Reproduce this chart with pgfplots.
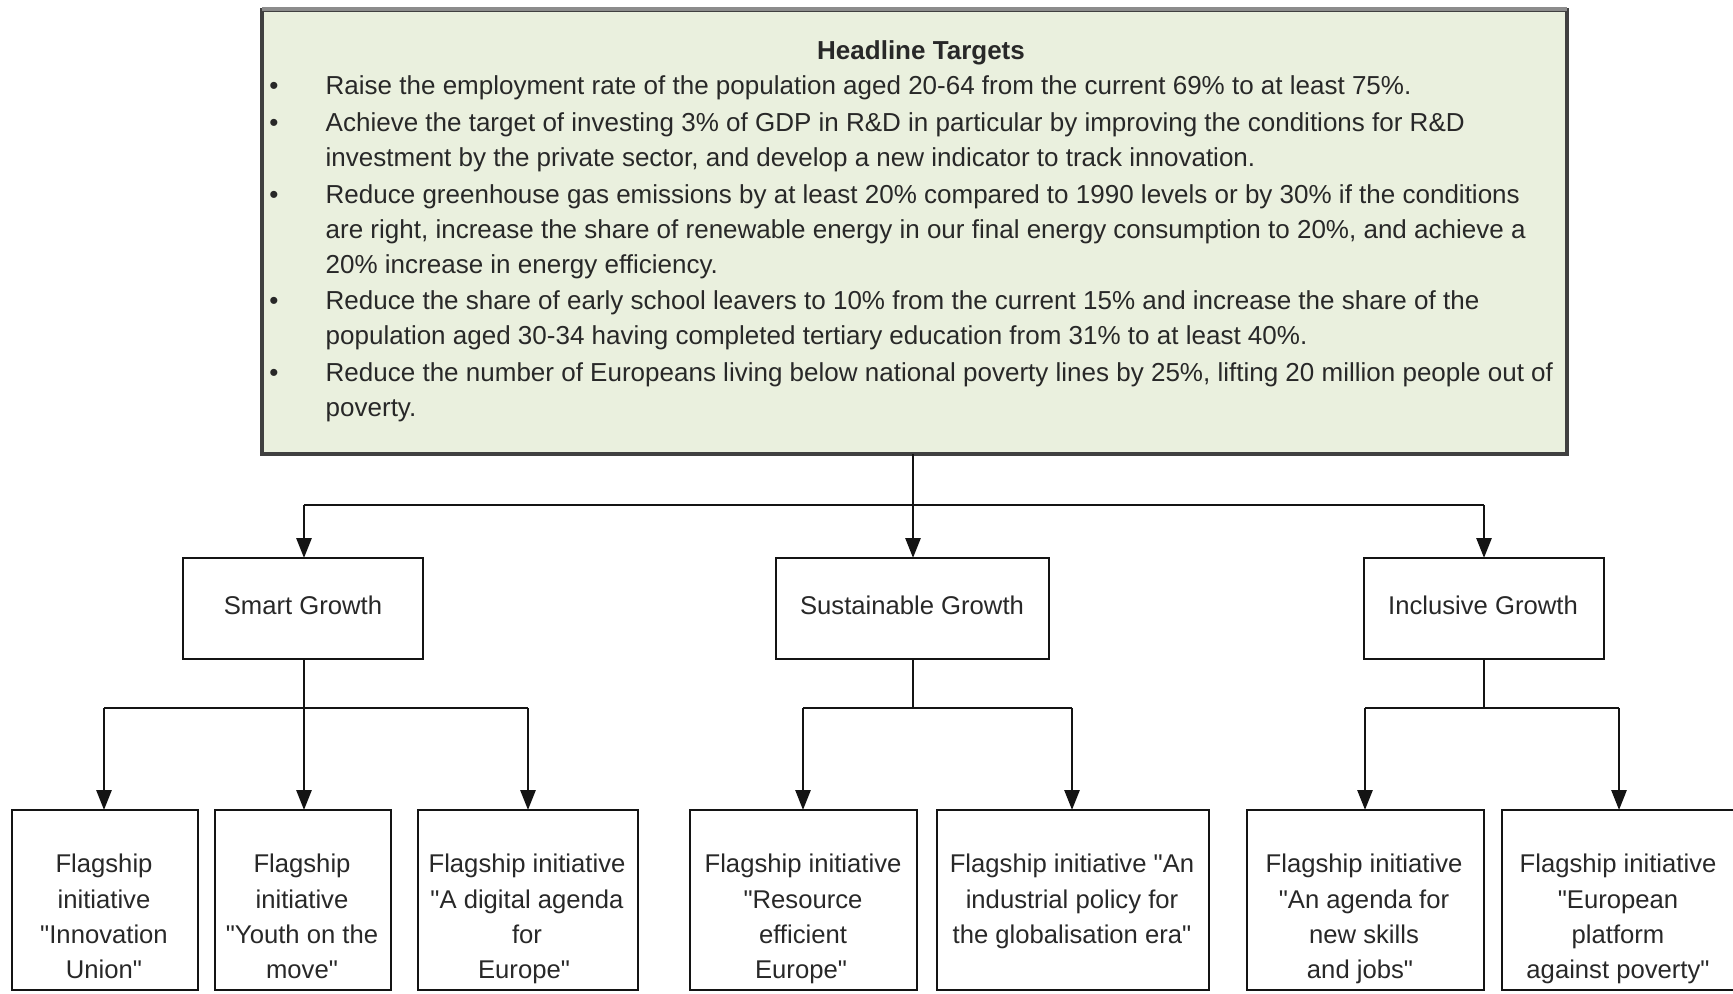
\documentclass[border=0pt]{standalone}
\usepackage{pgfplots}
\pgfplotsset{compat=1.18}
\usepackage{fontspec}
\setmainfont{Liberation Sans}[Ligatures=TeXOff]
\usetikzlibrary{arrows.meta}
\definecolor{boxfill}{RGB}{234,240,222}
\definecolor{tc}{RGB}{40,40,40}
\definecolor{ln}{RGB}{20,20,20}
\newcommand{\topfs}{\fontsize{7.4}{9}\selectfont}
\newcommand{\boxfs}{\fontsize{7.3}{9}\selectfont}
\begin{document}
\begin{tikzpicture}
\begin{axis}[
  scale only axis, width=17.33cm, height=9.93cm,
  xmin=0, xmax=1733, ymin=0, ymax=993, y dir=reverse,
  hide axis, clip=true,
  cycle list={{ln,solid}}, no markers,
  every axis plot/.append style={line width=0.8pt, draw=ln},
  nodes={inner sep=0pt, text=tc, text height=1.45ex, text depth=0pt, yshift=1.3pt},
]
\path (rel axis cs:0,0) rectangle (rel axis cs:1,1);
% ---- top box
\addplot[draw=black!75, line width=1pt, fill=boxfill] coordinates {(262,10) (1567,10) (1567,454) (262,454)} -- cycle;
\addplot[draw=black!45, line width=1.2pt] coordinates {(262,9) (1567,9)};
% ---- connectors level 1
\addplot[] coordinates {(913,454) (913,505)};
\addplot[] coordinates {(304,505) (1484,505)};
\addplot[-{Triangle[length=2mm,width=1.5mm]}] coordinates {(304,505) (304,558)};
\addplot[-{Triangle[length=2mm,width=1.5mm]}] coordinates {(913,505) (913,558)};
\addplot[-{Triangle[length=2mm,width=1.5mm]}] coordinates {(1484,505) (1484,558)};
% ---- middle boxes
\addplot[fill=white] coordinates {(183,558) (423,558) (423,659) (183,659)} -- cycle;
\addplot[fill=white] coordinates {(776,558) (1049,558) (1049,659) (776,659)} -- cycle;
\addplot[fill=white] coordinates {(1364,558) (1604,558) (1604,659) (1364,659)} -- cycle;
% ---- connectors level 2
\addplot[] coordinates {(304,659) (304,708)};
\addplot[] coordinates {(104,708) (528,708)};
\addplot[] coordinates {(913,659) (913,708)};
\addplot[] coordinates {(803,708) (1072,708)};
\addplot[] coordinates {(1484,659) (1484,708)};
\addplot[] coordinates {(1365,708) (1619,708)};
\addplot[-{Triangle[length=2mm,width=1.5mm]}] coordinates {(104,708) (104,810)};
\addplot[-{Triangle[length=2mm,width=1.5mm]}] coordinates {(304,708) (304,810)};
\addplot[-{Triangle[length=2mm,width=1.5mm]}] coordinates {(528,708) (528,810)};
\addplot[-{Triangle[length=2mm,width=1.5mm]}] coordinates {(803,708) (803,810)};
\addplot[-{Triangle[length=2mm,width=1.5mm]}] coordinates {(1072,708) (1072,810)};
\addplot[-{Triangle[length=2mm,width=1.5mm]}] coordinates {(1365,708) (1365,810)};
\addplot[-{Triangle[length=2mm,width=1.5mm]}] coordinates {(1619,708) (1619,810)};
% ---- bottom boxes
\addplot[fill=white] coordinates {(12,810) (198,810) (198,990) (12,990)} -- cycle;
\addplot[fill=white] coordinates {(215,810) (391,810) (391,990) (215,990)} -- cycle;
\addplot[fill=white] coordinates {(418,810) (638,810) (638,990) (418,990)} -- cycle;
\addplot[fill=white] coordinates {(690,810) (917,810) (917,990) (690,990)} -- cycle;
\addplot[fill=white] coordinates {(937,810) (1209,810) (1209,990) (937,990)} -- cycle;
\addplot[fill=white] coordinates {(1247,810) (1484,810) (1484,990) (1247,990)} -- cycle;
\addplot[fill=white] coordinates {(1502,810) (1740,810) (1740,990) (1502,990)} -- cycle;

% ---- top box text
\node[font=\fontsize{7.4}{9}\selectfont\bfseries] at (axis cs:921,51) {Headline Targets};
\node[font=\topfs] at (axis cs:274,86) {•};
\node[font=\topfs] at (axis cs:274,123) {•};
\node[font=\topfs] at (axis cs:274,194.5) {•};
\node[font=\topfs] at (axis cs:274,300.6) {•};
\node[font=\topfs] at (axis cs:274,372.5) {•};
\node[font=\topfs, anchor=west] at (axis cs:325,86) {Raise the employment rate of the population aged 20-64 from the current 69\% to at least 75\%.};
\node[font=\topfs, anchor=west] at (axis cs:325,123) {Achieve the target of investing 3\% of GDP in R\&D in particular by improving the conditions for R\&D};
\node[font=\topfs, anchor=west] at (axis cs:325,158) {investment by the private sector, and develop a new indicator to track innovation.};
\node[font=\topfs, anchor=west] at (axis cs:325,194.5) {Reduce greenhouse gas emissions by at least 20\% compared to 1990 levels or by 30\% if the conditions};
\node[font=\topfs, anchor=west] at (axis cs:325,230) {are right, increase the share of renewable energy in our final energy consumption to 20\%, and achieve a};
\node[font=\topfs, anchor=west] at (axis cs:325,265) {20\% increase in energy efficiency.};
\node[font=\topfs, anchor=west] at (axis cs:325,300.6) {Reduce the share of early school leavers to 10\% from the current 15\% and increase the share of the};
\node[font=\topfs, anchor=west] at (axis cs:325,336) {population aged 30-34 having completed tertiary education from 31\% to at least 40\%.};
\node[font=\topfs, anchor=west] at (axis cs:325,372.5) {Reduce the number of Europeans living below national poverty lines by 25\%, lifting 20 million people out of};
\node[font=\topfs, anchor=west] at (axis cs:325,408) {poverty.};

% ---- middle box text
\node[font=\boxfs] at (axis cs:303,606) {Smart Growth};
\node[font=\boxfs] at (axis cs:912,606) {Sustainable Growth};
\node[font=\boxfs] at (axis cs:1483,606) {Inclusive Growth};

% ---- bottom box text
\node[font=\boxfs] at (axis cs:104,864) {Flagship};
\node[font=\boxfs] at (axis cs:104,900) {initiative};
\node[font=\boxfs] at (axis cs:104,935) {"Innovation};
\node[font=\boxfs] at (axis cs:104,970) {Union"};

\node[font=\boxfs] at (axis cs:302,864) {Flagship};
\node[font=\boxfs] at (axis cs:302,900) {initiative};
\node[font=\boxfs] at (axis cs:302,935) {"Youth on the};
\node[font=\boxfs] at (axis cs:302,970) {move"};

\node[font=\boxfs] at (axis cs:527,864) {Flagship initiative};
\node[font=\boxfs] at (axis cs:527,900) {"A digital agenda};
\node[font=\boxfs] at (axis cs:527,935) {for};
\node[font=\boxfs] at (axis cs:524,970) {Europe"};

\node[font=\boxfs] at (axis cs:803,864) {Flagship initiative};
\node[font=\boxfs] at (axis cs:803,900) {"Resource};
\node[font=\boxfs] at (axis cs:803,935) {efficient};
\node[font=\boxfs] at (axis cs:801,970) {Europe"};

\node[font=\boxfs] at (axis cs:1072,864) {Flagship initiative "An};
\node[font=\boxfs] at (axis cs:1072,900) {industrial policy for};
\node[font=\boxfs] at (axis cs:1072,935) {the globalisation era"};

\node[font=\boxfs] at (axis cs:1364,864) {Flagship initiative};
\node[font=\boxfs] at (axis cs:1364,900) {"An agenda for};
\node[font=\boxfs] at (axis cs:1364,935) {new skills};
\node[font=\boxfs] at (axis cs:1360,970) {and jobs"};

\node[font=\boxfs] at (axis cs:1618,864) {Flagship initiative};
\node[font=\boxfs] at (axis cs:1618,900) {"European};
\node[font=\boxfs] at (axis cs:1618,935) {platform};
\node[font=\boxfs] at (axis cs:1618,970) {against poverty"};
\end{axis}
\pgfresetboundingbox
\path (current axis.south west) rectangle (current axis.north east);
\end{tikzpicture}
\end{document}
